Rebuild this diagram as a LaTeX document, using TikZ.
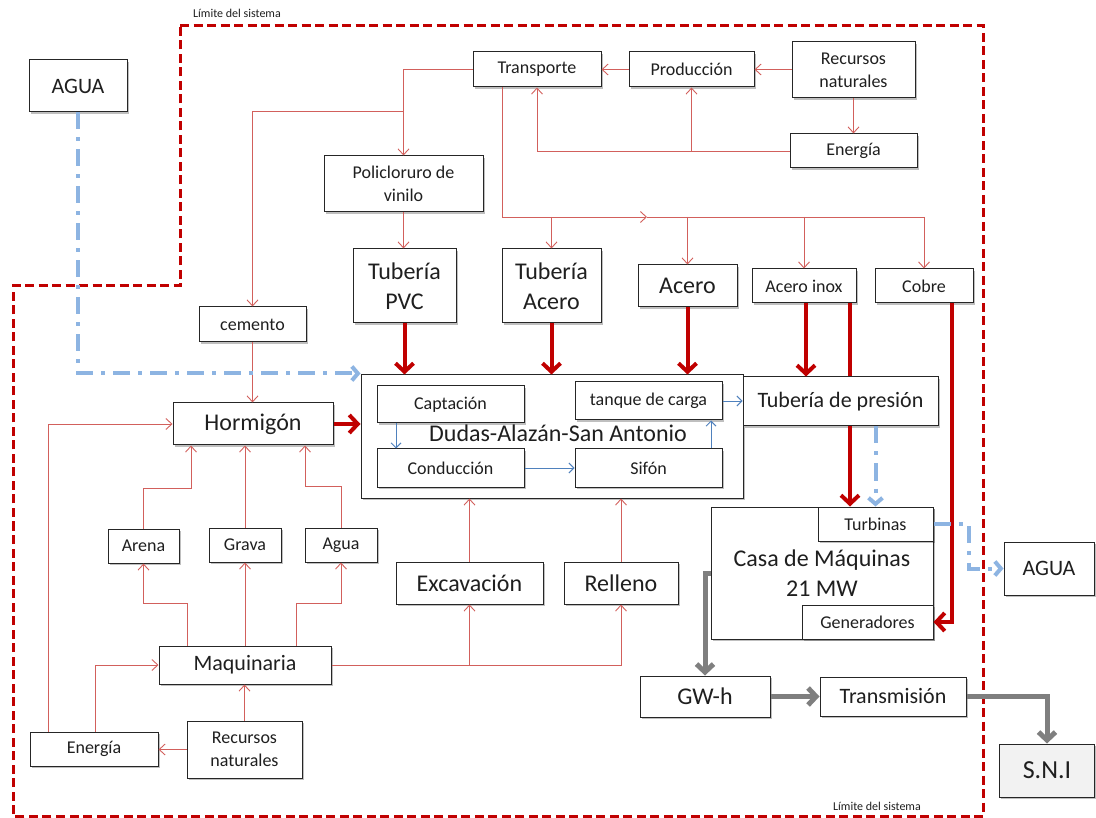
\documentclass[tikz,border=0pt]{standalone}
\usepackage{fontspec}
\setmainfont{Carlito}
\usetikzlibrary{arrows.meta,shadows}

\definecolor{thinred}{HTML}{D2605C}
\definecolor{deepred}{HTML}{C00000}
\definecolor{paleblue}{HTML}{8DB4E2}
\definecolor{midblue}{HTML}{4F81BD}
\definecolor{flowgray}{HTML}{7F7F7F}
\definecolor{ink}{HTML}{1F1F1F}
\definecolor{snifill}{HTML}{F2F2F2}

\tikzset{
  box/.style={draw=black!85, line width=1pt, fill=white, inner sep=0pt, align=center, text=ink,
    drop shadow={shadow xshift=1.6pt, shadow yshift=-1.6pt, opacity=0.25, fill=black}},
  sz/.style 2 args={minimum width=#1pt, minimum height=#2pt},
  txtXS/.style={font=\fontsize{12}{14}\selectfont, text=ink},
  txtS/.style={font=\fontsize{18}{23}\selectfont},
  txtM/.style={font=\fontsize{22}{28}\selectfont},
  txtL/.style={font=\fontsize{24}{30}\selectfont},
  txtXL/.style={font=\fontsize{26}{30}\selectfont},
  feed/.style={draw=thinred, line width=0.9pt},
  feedarr/.style={feed, -{Straight Barb[length=6pt,width=11pt]}},
  mainflow/.style={draw=deepred, line width=4pt},
  mainarr/.style={mainflow, -{Straight Barb[length=8.5pt,width=18pt]}},
  innerarr/.style={draw=midblue, line width=0.9pt, -{Straight Barb[length=5pt,width=10pt]}},
  waterarr/.style={draw=paleblue, line width=4pt, dash pattern=on 17pt off 8pt on 4pt off 8pt,
    -{Straight Barb[length=6pt,width=14pt]}},
  powerarr/.style={draw=flowgray, line width=5pt, -{Straight Barb[length=8pt,width=17pt]}},
  boundary/.style={draw=deepred, line width=3pt, dash pattern=on 9pt off 4.5pt},
}

\begin{document}
\begin{tikzpicture}[x=1pt, y=-1pt]
\fill[white] (0,0) rectangle (1096,818);
\useasboundingbox (0,0) rectangle (1096,818);

% system boundary
\draw[boundary] (180,26) -- (983,26) -- (983,816) -- (13,816) -- (13,286) -- (180,286) -- cycle;
\node[txtXS] (limTop) at (237,13) {Límite del sistema};
\node[txtXS] (limBot) at (877,806) {Límite del sistema};

% raw materials and supply chain
\node[box,txtM,sz={98}{52}] (aguaL) at (78,86) {AGUA};
\node[box,txtS,sz={128}{35}] (transp) at (537,69.5) {Transporte};
\node[box,txtS,sz={125}{35}] (prod) at (691.5,69.5) {Producción};
\node[box,txtS,sz={123}{56}] (recL) at (853.5,70) {Recursos\\naturales};
\node[box,txtS,sz={127}{34}] (enerT) at (853.5,151) {Energía};
\node[box,txtS,sz={159}{56}] (policl) at (403.5,184) {Policloruro de\\vinilo};
\node[box,txtL,sz={103}{74}] (tubPVC) at (404.5,286) {Tubería\\PVC};
\node[box,txtL,sz={99}{74}] (tubAce) at (551.5,286) {Tubería\\Acero};
\node[box,txtL,sz={99}{42}] (acero) at (687.5,286) {Acero};
\node[box,txtS,sz={104}{34}] (aceInox) at (804,286) {Acero inox};
\node[box,txtS,sz={98}{34}] (cobre) at (924,286) {Cobre};
\node[box,txtS,sz={107}{35}] (cemento) at (252.5,324.5) {cemento};

% hydro scheme
\node[box,sz={382}{123}] (dudas) at (552,436.5) {};
\node[box,txtS,sz={147}{37}] (captacion) at (450.5,404.5) {Captación};
\node[box,txtS,sz={147}{38}] (tanque) at (648.5,401) {tanque de carga};
\node[box,txtS,sz={147}{38}] (conduccion) at (450.5,468) {Conducción};
\node[box,txtS,sz={147}{38}] (sifon) at (648.5,468) {Sifón};
\node[txtL,text=ink] (dudasT) at (558,433) {Dudas-Alazán-San Antonio};
\node[box,txtM,sz={195}{49}] (tubPres) at (840.5,401.5) {Tubería de presión};

% concrete and earthworks
\node[box,txtL,sz={160}{42}] (hormigon) at (253,424) {Hormigón};
\node[box,txtS,sz={71}{34}] (arena) at (143.5,546) {Arena};
\node[box,txtS,sz={72}{34}] (grava) at (245,545) {Grava};
\node[box,txtS,sz={72}{34}] (aguaM) at (341,545) {Agua};
\node[box,txtM,sz={172}{38}] (maquin) at (245,665) {Maquinaria};
\node[box,txtS,sz={128}{34}] (enerB) at (94,749) {Energía};
\node[box,txtS,sz={115}{57}] (recB) at (244.5,749.5) {Recursos\\naturales};
\node[box,txtL,sz={147}{42}] (excav) at (469.5,583) {Excavación};
\node[box,txtL,sz={114}{42}] (relleno) at (621,583) {Relleno};

% power house and output
\node[box,txtL,sz={222}{132}] (casa) at (822,573) {Casa de Máquinas\\21 MW};
\node[box,txtS,sz={115}{34}] (turbinas) at (875.5,524) {Turbinas};
\node[box,txtS,sz={131}{34}] (generadores) at (867.5,622) {Generadores};
\node[box,txtM,sz={90}{53}] (aguaR) at (1049,568.5) {AGUA};
\node[box,txtL,sz={130}{41}] (gwh) at (705,696.5) {GW-h};
\node[box,txtM,sz={146}{39}] (transm) at (893,696.5) {Transmisión};
\node[box,txtXL,fill=snifill,sz={95}{53}] (sni) at (1047,770.5) {S.N.I};

% junctions of the supply lines
\coordinate (jPvc) at (403.5,111);
\coordinate (jMid) at (647,217);
\coordinate (jMetal) at (924,217);

% supply chain (thin red)
\draw[feedarr] (recL.west |- prod.east) -- (prod.east);
\draw[feedarr] (prod.west) -- (transp.east);
\draw[feedarr] (recL.south) -- (enerT.north);
\draw[feedarr] (enerT.west) -| (transp.south);
\draw[feedarr] (prod.south |- enerT.west) -- (prod.south);
\draw[feedarr] (transp.west) -| (policl.north);
\draw[feedarr] (jPvc) -| (cemento.north);
\draw[feedarr] ([xshift=-35pt]transp.south) |- (jMid);
\draw[feed] (jMid) -- (jMetal);
\draw[feedarr] (jMetal) -- (cobre.north);
\draw[feedarr] (tubAce.north |- jMetal) -- (tubAce.north);
\draw[feedarr] (acero.north |- jMetal) -- (acero.north);
\draw[feedarr] (aceInox.north |- jMetal) -- (aceInox.north);
\draw[feedarr] (policl.south) -- (policl.south |- tubPVC.north);
\draw[feedarr] (cemento.south) -- (cemento.south |- hormigon.north);

% concrete ingredients and machinery (thin red)
\draw[feedarr] (arena.north) -- ++(0,-40) -| ([xshift=-62pt]hormigon.south);
\draw[feedarr] (grava.north) -- (grava.north |- hormigon.south);
\draw[feedarr] (aguaM.north) -- ++(0,-41) -| ([xshift=52pt]hormigon.south);
\draw[feedarr] ([xshift=-58pt]maquin.north) -- ++(0,-42) -| (arena.south);
\draw[feedarr] (maquin.north) -- (maquin.north |- grava.south);
\draw[feedarr] ([xshift=51pt]maquin.north) -- ++(0,-42) -| (aguaM.south);
\draw[feedarr] (recB.north) -- (recB.north |- maquin.south);
\draw[feedarr] (recB.west) -- (recB.west -| enerB.east);
\draw[feedarr] ([xshift=1pt]enerB.north) |- (maquin.west);
\draw[feedarr] ([xshift=-46pt]enerB.north) |- (hormigon.west);
\draw[feedarr] (maquin.east) -| (relleno.south);
\draw[feedarr] (excav.south |- maquin.east) -- (excav.south);
\draw[feedarr] (excav.north) -- (excav.north |- dudas.south);
\draw[feedarr] (relleno.north) -- (relleno.north |- dudas.south);

% main material flows (thick red)
\draw[mainarr] (tubPVC.south) -- (tubPVC.south |- dudas.north);
\draw[mainarr] (tubAce.south) -- (tubAce.south |- dudas.north);
\draw[mainarr] (acero.south) -- (acero.south |- dudas.north);
\draw[mainarr] (hormigon.east) -- (hormigon.east -| dudas.west);
\draw[mainarr] ([xshift=2pt]aceInox.south) -- ([xshift=2pt]aceInox.south |- tubPres.north);
\draw[mainflow] ([xshift=46pt]aceInox.south) -- ([xshift=46pt]aceInox.south |- tubPres.north);
\draw[mainarr] ([xshift=9.5pt]tubPres.south) -- ([xshift=9.5pt]tubPres.south |- turbinas.north);
\draw[mainarr] ([xshift=28pt]cobre.south) |- (generadores.east);

% water path inside the scheme (thin blue)
\draw[innerarr] ([xshift=-54.5pt]captacion.south) -- ([xshift=-54.5pt]captacion.south |- conduccion.north);
\draw[innerarr] (conduccion.east) -- (sifon.west);
\draw[innerarr] ([xshift=62.5pt]sifon.north) -- ([xshift=62.5pt]sifon.north |- tanque.south);
\draw[innerarr] (tanque.east) -- (tanque.east -| tubPres.west);

% water in and out (dash-dot blue)
\draw[waterarr] (aguaL.south) |- ([yshift=1pt]dudas.north west);
\draw[waterarr] (tubPres.south -| turbinas.north) -- (turbinas.north);
\draw[waterarr] (turbinas.east) -- ++(35,0) |- (aguaR.west);

% energy output (gray)
\draw[powerarr] (casa.west) -| (gwh.north);
\draw[powerarr] (gwh.east) -- (transm.west);
\draw[powerarr] (transm.east) -| (sni.north);
\end{tikzpicture}
\end{document}
